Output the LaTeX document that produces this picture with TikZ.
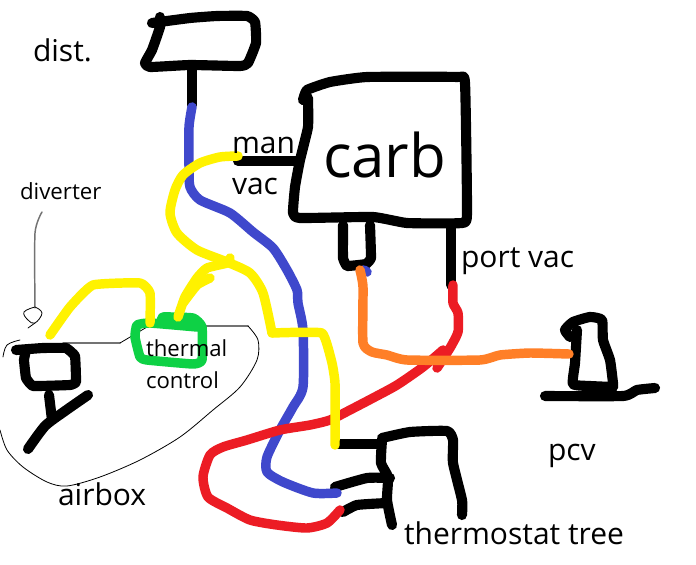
\documentclass[tikz,border=0pt]{standalone}
\usepackage{fontspec}
\setmainfont{Open Sans}
\definecolor{pblue}{HTML}{3F48CC}
\definecolor{pyellow}{HTML}{FFF200}
\definecolor{pred}{HTML}{EC1C24}
\definecolor{porange}{HTML}{FF7F27}
\definecolor{pgreen}{HTML}{0ED145}
\tikzset{
 stroke/.style={line width=7.1pt,line cap=round,line join=round},
 ink/.style={stroke,line width=7.6pt,draw=black},
 thinline/.style={line width=0.6pt,draw=black,line cap=round},
 grayline/.style={line width=1.1pt,draw=black!55,line cap=round,line join=round},
 lab/.style={anchor=base west,inner sep=0pt,outer sep=0pt,text=black},
 labm/.style={lab,font=\fontsize{22.5}{25}\selectfont},
 labs/.style={lab,font=\fontsize{16.6}{20}\selectfont},
}
\begin{document}
\begin{tikzpicture}[x=0.75pt,y=-0.75pt]
\useasboundingbox (0,0) rectangle (696,564);
\fill[white] (0,0) rectangle (696,564);
% thin airbox outline
\draw[grayline] plot[smooth,tension=0.4] coordinates {(42,212) (35,233) (35,308)};
\draw[thinline] plot[smooth,tension=0.7] coordinates {(35,307) (24,312) (28,320) (35,323) (42,313) (35,307)};
\draw[thinline] (35,323) -- (28,328);
\draw[thinline] plot[smooth,tension=0.6] coordinates {(20,340) (7,345) (3,357)};
\draw[grayline] (63,343) -- (120,343);
\draw[thinline] (120,343) -- (147,327);
\draw[grayline] (205,326) -- (248,326);
\draw[thinline] plot[smooth,tension=0.5] coordinates {(248,326) (258,340) (257,360) (240,387) (213,410) (180,437) (140,460) (100,477) (67,486) (47,482) (23,467) (7,450) (0,430)};
% black shapes
\draw[ink] plot[smooth,tension=0.25] coordinates {(152,23) (190,18) (217,16) (247,16) (255,22) (256,43) (248,63) (240,66) (190,65) (150,67) (145,63) (152,50) (160,27) (160,17)};
\draw[ink] (192,65) -- (192,105);
\draw[ink] plot[smooth,tension=0.25] coordinates {(303,100) (307,90) (330,82) (367,77) (457,77) (465,83) (467,213) (462,223) (407,223) (373,217) (300,218) (293,213) (295,187) (300,160) (308,127) (308,98)};
\draw[ink] (238,161) -- (297,161);
\draw[ink] plot[smooth,tension=0.15] coordinates {(343,225) (343,258) (347,266) (366,264) (371,258) (370,225)};
\draw[ink] (451,228) -- (451,285);
\draw[ink] plot[smooth,tension=0.15] coordinates {(16,350) (43,348) (66,348) (75,356) (76,382) (70,385) (33,386) (26,378) (24,360) (26,350)};
\draw[ink] (49,395) -- (52,420);
\draw[ink] plot[smooth,tension=0.4] coordinates {(88,395) (65,411) (45,426) (28,449)};
\draw[ink] plot[smooth,tension=0.3] coordinates {(570,337) (565,330) (573,322) (590,317) (602,320) (603,340) (610,360) (613,383) (613,387)};
\draw[ink] plot[smooth,tension=0.3] coordinates {(577,330) (575,363) (573,384) (590,386) (613,387)};
\draw[ink] plot[smooth,tension=0.3] coordinates {(545,396) (623,396) (637,390) (655,388)};
\draw[ink] (337,444) -- (380,444);
\draw[ink] plot[smooth,tension=0.3] coordinates {(382,438) (410,432) (447,431) (453,440) (453,463) (462,500) (462,515)};
\draw[ink] plot[smooth,tension=0.3] coordinates {(382,440) (381,463) (388,477) (387,500) (392,525)};
\draw[ink] plot[smooth,tension=0.3] coordinates {(335,487) (367,478) (390,478)};
\draw[ink] plot[smooth,tension=0.3] coordinates {(343,512) (357,505) (387,503)};
% green
\draw[stroke,draw=pgreen] plot[smooth,tension=0.25] coordinates {(162,322) (163,317) (193,318) (202,327) (202,360) (193,364) (147,360) (140,357) (135,337) (137,325) (150,323) (197,327)};
% blue
\draw[stroke,draw=pblue] (364,270) -- (367,272);
\draw[stroke,draw=pblue] plot[smooth,tension=0.4] coordinates {(192,107) (189,127) (189,167) (190,187) (200,200) (230,213) (253,232) (273,248) (287,270) (297,290) (298,303) (303,330) (303,387) (293,407) (280,430) (267,457) (267,472) (283,482) (313,493) (337,493)};
% red
\draw[stroke,draw=pred] plot[smooth,tension=0.35] coordinates {(453,285) (453,303) (458,313) (458,332) (450,348) (437,368)};
\draw[stroke,draw=pred] plot[smooth,tension=0.4] coordinates {(443,350) (423,367) (397,385) (373,398) (350,410) (330,420) (310,425) (280,430) (247,440) (223,447) (210,455) (203,477) (208,497) (227,508) (250,520) (277,525) (307,528) (327,523) (340,510)};
% orange
\draw[stroke,draw=porange] plot[smooth,tension=0.3] coordinates {(360,270) (363,287) (363,343) (372,352) (387,355) (407,360) (480,360) (500,355) (530,353) (569,354)};
% yellow
\draw[stroke,draw=pyellow] plot[smooth,tension=0.4] coordinates {(238,156) (220,157) (200,163) (183,175) (175,190) (170,213) (177,233) (197,250) (227,262) (250,273) (263,293) (272,333)};
\draw[stroke,draw=pyellow] plot[smooth,tension=0.2] coordinates {(272,333) (322,333) (332,363) (335,383) (335,445)};
\draw[stroke,draw=pyellow] plot[smooth,tension=0.3] coordinates {(230,258) (227,263) (207,268) (197,278) (185,297) (178,317)};
\draw[stroke,draw=pyellow] plot[smooth,tension=0.3] coordinates {(210,278) (197,285) (183,303)};
\draw[stroke,draw=pyellow] plot[smooth,tension=0.25] coordinates {(50,335) (70,307) (93,285) (140,283) (150,293) (150,323)};
% labels
\node[labm] (dist) at (33,61) {dist.};
\node[labm] (man) at (232,153) {man};
\node[labm] (vac) at (232,194) {vac};
\node[lab,font=\fontsize{45}{50}\selectfont] (carb) at (323,177) {carb};
\node[labm] (port) at (461,267) {port vac};
\node[lab,font=\fontsize{16.7}{19}\selectfont] (diverter) at (20,199) {diverter};
\node[labs] (thermal) at (146,356) {thermal};
\node[labs] (control) at (146,388) {control};
\node[labm] (airbox) at (58,505) {airbox};
\node[labm] (pcv) at (548,460) {pcv};
\node[labm] (tree) at (404,544) {thermostat tree};
\end{tikzpicture}
\end{document}
